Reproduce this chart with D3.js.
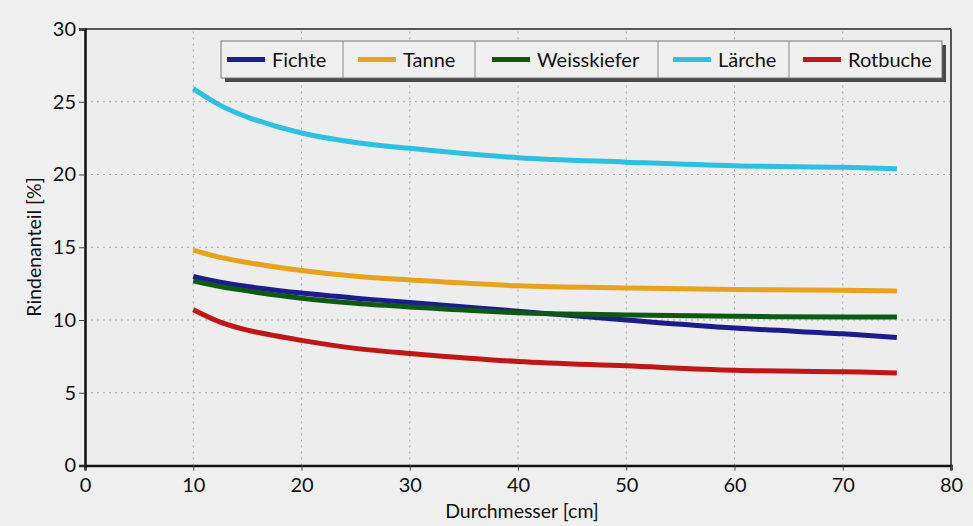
<!DOCTYPE html>
<html><head><meta charset="utf-8">
<script src="https://cdn.jsdelivr.net/npm/d3@7"></script>
<style>
html,body{margin:0;padding:0;background:#efefef;}
svg{display:block;font-family:Lato,"Open Sans",sans-serif;}
</style></head>
<body>
<svg id="chart" width="973" height="526"></svg>
<script>
const diameters = [10, 12.5, 15, 20, 25, 30, 40, 50, 60, 70, 75];
const fichte      = [13.0, 12.6, 12.3, 11.85, 11.5, 11.2, 10.6, 10.0, 9.45, 9.05, 8.8];
const tanne       = [14.8, 14.3, 13.95, 13.4, 13.0, 12.75, 12.35, 12.2, 12.1, 12.05, 12.0];
const weisskiefer = [12.7, 12.3, 12.0, 11.5, 11.15, 10.9, 10.5, 10.35, 10.25, 10.2, 10.2];
const laerche     = [25.9, 24.75, 23.95, 22.85, 22.2, 21.8, 21.15, 20.85, 20.6, 20.5, 20.4];
const rotbuche    = [10.7, 9.85, 9.3, 8.6, 8.05, 7.7, 7.15, 6.85, 6.55, 6.45, 6.35];
const seriesNames = ["Fichte", "Tanne", "Weisskiefer", "Lärche", "Rotbuche"];
const seriesColors = ["#1c1c8e", "#e8a21e", "#0e5a14", "#2ec0e2", "#c01616"];
const xTicks = [0, 10, 20, 30, 40, 50, 60, 70, 80];
const yTicks = [0, 5, 10, 15, 20, 25, 30];

const seriesData = [fichte, tanne, weisskiefer, laerche, rotbuche];
const svg = d3.select("#chart");
const W = 973, H = 526;
const x = d3.scaleLinear().domain([0, 80]).range([85, 951]);
const y = d3.scaleLinear().domain([0, 30]).range([465.5, 29]);

svg.append("rect").attr("width", W).attr("height", H).attr("fill", "#efefef");
svg.append("rect").attr("x", x(0)).attr("y", y(30)).attr("width", x(80) - x(0)).attr("height", y(0) - y(30)).attr("fill", "#ededed");

// grid
const g = svg.append("g");
g.selectAll("line.vg").data(xTicks.slice(1, -1)).join("line")
  .attr("x1", d => x(d)).attr("x2", d => x(d)).attr("y1", y(0)).attr("y2", y(30))
  .attr("stroke", "#a8a8a8").attr("stroke-width", 1).attr("stroke-dasharray", "2,4");
g.selectAll("line.hg").data(yTicks.slice(1, -1)).join("line")
  .attr("x1", x(0)).attr("x2", x(80)).attr("y1", d => y(d)).attr("y2", d => y(d))
  .attr("stroke", "#a8a8a8").attr("stroke-width", 1).attr("stroke-dasharray", "2,4");

// frame top/right
svg.append("line").attr("x1", x(0)).attr("x2", x(80)).attr("y1", y(30)).attr("y2", y(30)).attr("stroke", "#555").attr("stroke-width", 2);
svg.append("line").attr("x1", x(80)).attr("x2", x(80)).attr("y1", y(30)).attr("y2", y(0)).attr("stroke", "#555").attr("stroke-width", 2);

// axes
const xAxis = svg.append("g").attr("transform", `translate(0,${y(0)})`)
  .call(d3.axisBottom(x).tickValues(xTicks).tickSize(5).tickPadding(7).tickFormat(d3.format("d")));
const yAxis = svg.append("g").attr("transform", `translate(${x(0)},0)`)
  .call(d3.axisLeft(y).tickValues(yTicks).tickSize(6).tickPadding(3).tickFormat(d3.format("d")));
[xAxis, yAxis].forEach(a => {
  a.select(".domain").attr("stroke", "#111").attr("stroke-width", 2.5);
  a.selectAll(".tick line").attr("stroke", "#444");
  a.selectAll("text").attr("fill", "#111").style("font-size", "20px").style("font-family", "Lato, sans-serif");
});

// lines
const line = d3.line().x((d, i) => x(diameters[i])).y(d => y(d)).curve(d3.curveCatmullRom.alpha(0.5));
svg.append("g").selectAll("path").data(seriesData).join("path")
  .attr("d", d => line(d)).attr("fill", "none")
  .attr("stroke", (d, i) => seriesColors[i]).attr("stroke-width", 5).attr("stroke-linecap", "butt");

// legend
const lg = svg.append("g");
const ly0 = 41, lh = 37;
const seps = [221, 343, 475, 658, 789, 942];
const swOff = [6, 15, 17, 15, 14];
lg.append("rect").attr("x", seps[0] + 4).attr("y", ly0 + 4).attr("width", seps[5] - seps[0]).attr("height", lh).attr("fill", "#4a4a4a");
lg.append("rect").attr("x", seps[0]).attr("y", ly0).attr("width", seps[5] - seps[0]).attr("height", lh).attr("fill", "#efefef").attr("stroke", "#777").attr("stroke-width", 1);
seriesNames.forEach((name, i) => {
  const sx = seps[i];
  if (i > 0) lg.append("line").attr("x1", sx).attr("x2", sx).attr("y1", ly0).attr("y2", ly0 + lh).attr("stroke", "#888");
  const s0 = sx + swOff[i];
  lg.append("line").attr("x1", s0).attr("x2", s0 + 38).attr("y1", ly0 + lh / 2).attr("y2", ly0 + lh / 2)
    .attr("stroke", seriesColors[i]).attr("stroke-width", 5);
  lg.append("text").attr("x", s0 + 45).attr("y", ly0 + lh / 2 + 7).text(name)
    .attr("fill", "#111").style("font-size", "20px");
});

// axis titles
svg.append("text").attr("x", 522).attr("y", 518).attr("text-anchor", "middle")
  .style("font-size", "19.5px").attr("fill", "#111").text("Durchmesser [cm]");
svg.append("text").attr("transform", `translate(41,${247}) rotate(-90)`).attr("text-anchor", "middle")
  .style("font-size", "19.5px").attr("fill", "#111").text("Rindenanteil [%]");
</script>
</body></html>
